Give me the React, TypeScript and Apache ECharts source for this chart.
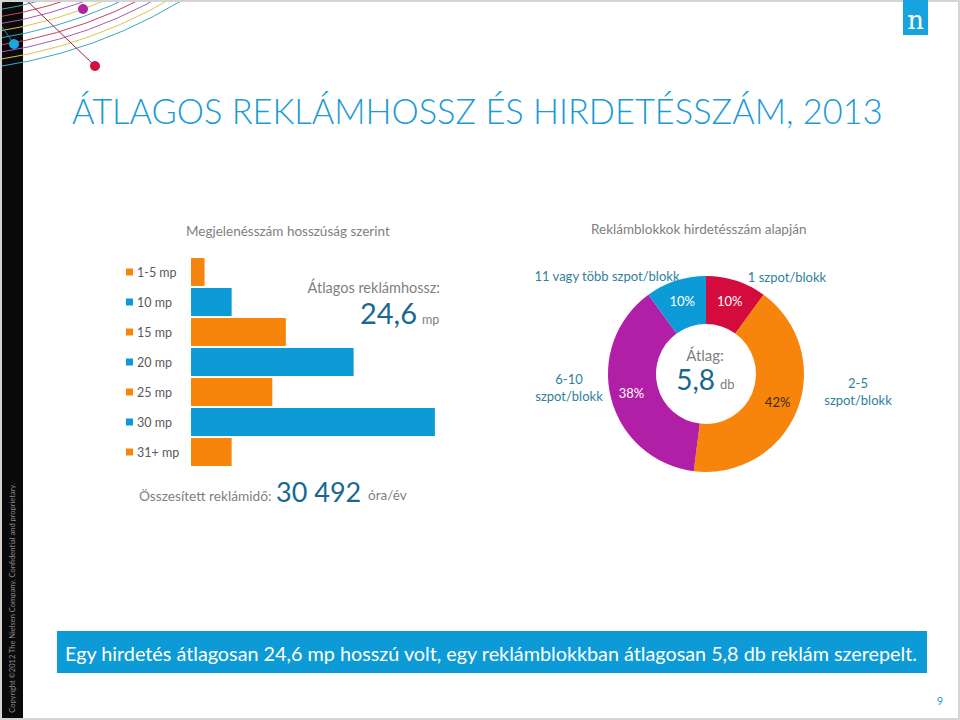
import React, { useEffect, useRef } from "react";
import * as echarts from "echarts";

// ---- data ----
const lengthCategories = ["1-5 mp", "10 mp", "15 mp", "20 mp", "25 mp", "30 mp", "31+ mp"];
const lengthShares = [2, 6, 14, 24, 12, 36, 6];
const blockCategories = ["1 szpot/blokk", "2-5 szpot/blokk", "6-10 szpot/blokk", "11 vagy több szpot/blokk"];
const blockShares = [10, 42, 38, 10];
const avgLength = "24,6";
const avgCount = "5,8";
const totalTime = "30 492";

const ORANGE = "#f7850b";
const BLUE = "#0d9bd7";
const RED = "#d40b3c";
const PURPLE = "#b11fa6";
const GREY = "#7f7f7f";
const DARKBLUE = "#17698f";
const TEAL = "#2f7f9c";
const FONT = "Lato";

const barColors = lengthCategories.map((_, i) => (i % 2 === 0 ? ORANGE : BLUE));
const pieColors = [RED, ORANGE, PURPLE, BLUE];
const pieLabelColors = ["#ffffff", "#3a2a10", "#ffffff", "#ffffff"];

function txt(text: string, x: number, y: number, size: number, fill: string, align = "left", vAlign = "middle", extra: any = {}, weight = "normal") {
  return {
    type: "text",
    x,
    y,
    silent: true,
    ...extra,
    style: {
      text,
      fill,
      font: `${weight} ${size}px ${FONT}`,
      textAlign: align,
      textVerticalAlign: vAlign,
      lineHeight: text.includes("\n") ? 17 : undefined,
    },
  };
}

export default function App() {
  const ref = useRef<HTMLDivElement>(null);
  useEffect(() => {
    if (!ref.current) return;
    const chart = echarts.init(ref.current, null, { renderer: "svg" });

    const arcColors = ["#a65bb4", "#d8c64e", "#3aa9ba", "#c4445e"];
    const arcs: any[] = [];
    for (let k = 0; k < 11; k++) {
      arcs.push({
        type: "arc",
        silent: true,
        shape: { cx: -74, cy: -421, r: 423 + k * 7, startAngle: 0.7, endAngle: 1.75 },
        style: { stroke: arcColors[k % 4], lineWidth: 1, fill: "none" },
      });
    }

    const graphic: any[] = [
      { type: "rect", silent: true, shape: { x: 0, y: 0, width: 23, height: 720 }, style: { fill: "#0a0a0a" } },
      ...arcs,
      { type: "line", silent: true, shape: { x1: 22, y1: -4, x2: 95, y2: 66 }, style: { stroke: "#a0203a", lineWidth: 1 } },
      { type: "line", silent: true, shape: { x1: 0, y1: 24, x2: 14, y2: 44 }, style: { stroke: "#2a8fb0", lineWidth: 1 } },
      { type: "circle", silent: true, shape: { cx: 83, cy: 9, r: 5 }, style: { fill: "#b0249f" } },
      { type: "circle", silent: true, shape: { cx: 14, cy: 44, r: 5 }, style: { fill: "#1aa6df" } },
      { type: "circle", silent: true, shape: { cx: 95, cy: 66, r: 5 }, style: { fill: "#d2103f" } },
      { type: "rect", silent: true, shape: { x: 1, y: 1, width: 958, height: 718 }, style: { fill: "none", stroke: "#d4d4d4", lineWidth: 2 } },
      txt("Copyright ©2012 The Nielsen Company. Confidential and proprietary.", 12, 598, 7.5, "#8c8c8c", "center", "middle", { rotation: Math.PI / 2 }),
      // logo
      { type: "rect", silent: true, shape: { x: 903, y: 0, width: 25, height: 35 }, style: { fill: "#17a3e0" } },
      { type: "text", silent: true, x: 915.5, y: 20, style: { text: "n", fill: "#ffffff", font: "26px 'DejaVu Serif'", textAlign: "center", textVerticalAlign: "middle" } },
      // title
      txt("ÁTLAGOS REKLÁMHOSSZ ÉS HIRDETÉSSZÁM, 2013", 72, 110, 34.4, "#1a9ad6", "left", "middle", {}, "300"),
      // headings
      txt("Megjelenésszám hosszúság szerint", 186, 231, 13.5, GREY),
      txt("Reklámblokkok hirdetésszám alapján", 591, 229, 13.5, GREY),
      // avg length
      txt("Átlagos reklámhossz:", 440, 287, 14.5, GREY, "right"),
      txt(avgLength, 417, 327, 29, DARKBLUE, "right", "bottom"),
      txt("mp", 422, 326, 12.5, GREY, "left", "bottom"),
      // total
      txt("Összesített reklámidő:", 139, 502, 13.7, GREY, "left", "bottom"),
      txt(totalTime, 276, 505, 27, DARKBLUE, "left", "bottom"),
      txt("óra/év", 368, 502, 13.5, GREY, "left", "bottom"),
      // donut center
      txt("Átlag:", 705, 355, 15, GREY, "center"),
      txt(avgCount, 715, 393, 28, DARKBLUE, "right", "bottom"),
      txt("db", 720, 390, 13, GREY, "left", "bottom"),
      // donut outer labels
      txt(blockCategories[3], 607, 276, 13, TEAL, "center"),
      txt(blockCategories[0], 787, 277, 13, TEAL, "center"),
      txt(blockCategories[2].replace(" ", "\n"), 569, 387, 13, TEAL, "center"),
      txt(blockCategories[1].replace(" ", "\n"), 858, 391, 13, TEAL, "center"),
      // banner
      { type: "rect", silent: true, shape: { x: 57, y: 631, width: 870, height: 42 }, style: { fill: "#0d9bd7" } },
      txt("Egy hirdetés átlagosan 24,6 mp hosszú volt, egy reklámblokkban átlagosan 5,8 db reklám szerepelt.", 491, 653, 19.8, "#ffffff", "center"),
      txt("9", 940, 700, 11, "#1a9ad6", "center"),
    ];

    chart.setOption({
      animation: false,
      backgroundColor: "#ffffff",
      textStyle: { fontFamily: FONT },
      grid: { left: 191, top: 257, width: 271, height: 210, containLabel: false },
      xAxis: { type: "value", min: 0, max: 40, show: false, splitLine: { show: false } },
      yAxis: {
        type: "category",
        data: lengthCategories,
        inverse: true,
        axisLine: { show: false },
        axisTick: { show: false },
        axisLabel: {
          align: "left",
          margin: 65,
          formatter: (v: string, i: number) => `{${i % 2 === 0 ? "o" : "b"}|}{t|${v}}`,
          rich: {
            o: { width: 7, height: 7, backgroundColor: ORANGE },
            b: { width: 7, height: 7, backgroundColor: BLUE },
            t: { fontSize: 12.5, color: "#5a5a5a", fontFamily: FONT, padding: [0, 0, 0, 4] },
          },
        },
      },
      series: [
        {
          type: "bar",
          barCategoryGap: "7%",
          silent: true,
          data: lengthShares.map((v, i) => ({ value: v, itemStyle: { color: barColors[i] } })),
        },
        {
          type: "pie",
          silent: true,
          center: [706, 374],
          radius: [50, 98],
          startAngle: 90,
          clockwise: true,
          label: { show: true, position: "inside", formatter: "{c}%", fontSize: 13, fontFamily: FONT },
          labelLine: { show: false },
          data: blockShares.map((v, i) => ({
            name: blockCategories[i],
            value: v,
            itemStyle: { color: pieColors[i] },
            label: { color: pieLabelColors[i] },
          })),
        },
      ],
      graphic,
    });
    return () => chart.dispose();
  }, []);
  return <div ref={ref} style={{ position: "fixed", left: 0, top: 0, width: 960, height: 720 }} />;
}
